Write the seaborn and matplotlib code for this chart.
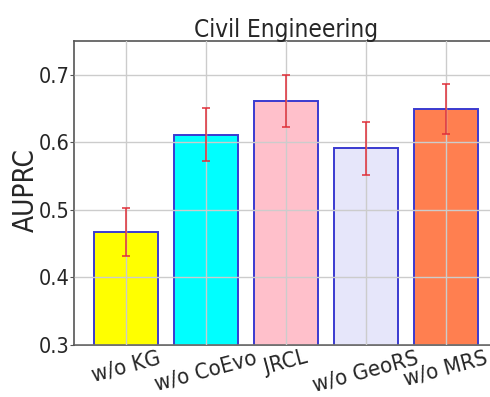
import matplotlib
matplotlib.use("Agg")
import matplotlib.pyplot as plt
import seaborn as sns
import pandas as pd

categories = ["w/o KG", "w/o CoEvo", "JRCL", "w/o GeoRS", "w/o MRS"]
values = [0.467, 0.611, 0.661, 0.591, 0.649]
errors = [0.036, 0.039, 0.038, 0.039, 0.037]
colors = ["#FFFF00", "#00FFFF", "#FFC0CB", "#E6E6FA", "#FF7F50"]
yticks = [0.3, 0.4, 0.5, 0.6, 0.7]

sns.set_style("white")
plt.rcParams["font.family"] = ["DejaVu Sans"]
plt.rcParams["font.stretch"] = "condensed"

df = pd.DataFrame({"method": categories, "AUPRC": values})

fig = plt.figure(figsize=(4.9, 3.97), dpi=100)
ax = fig.add_axes([0.151, 0.131, 0.865, 0.766])

sns.barplot(data=df, x="method", y="AUPRC", hue="method", palette=colors,
            order=categories, hue_order=categories, legend=False, saturation=1,
            width=0.8, edgecolor="#3a3ad0", linewidth=1.4, errorbar=None, ax=ax)
ax.errorbar(categories, values, yerr=errors, fmt="none", ecolor="#e0303a",
            elinewidth=1.3, capsize=3, capthick=1.3, alpha=0.85, zorder=5)

ax.set_xlim(-0.65, 4.65)
ax.set_ylim(0.3, 0.75)
ax.set_yticks(yticks)
ax.set_yticklabels([f"{t:.1f}" for t in yticks])
ax.grid(True, color="#cccccc", linewidth=1.0)
ax.set_axisbelow(False)
for s in ax.spines.values():
    s.set_color("#555555")
    s.set_linewidth(1.2)
ax.spines["right"].set_visible(False)
ax.tick_params(axis="y", labelsize=15.5, length=3, color="#555555", pad=0.5, left=True)
ax.tick_params(axis="x", labelsize=16, length=0, pad=2)
plt.setp(ax.get_xticklabels(), rotation=15)
ax.set_xlabel("")
ax.set_ylabel("AUPRC", fontsize=20)
ax.yaxis.set_label_coords(-0.08, 0.51)
ax.set_title("Civil Engineering", fontsize=17.5, pad=3)

fig.savefig("out.png", dpi=100)
